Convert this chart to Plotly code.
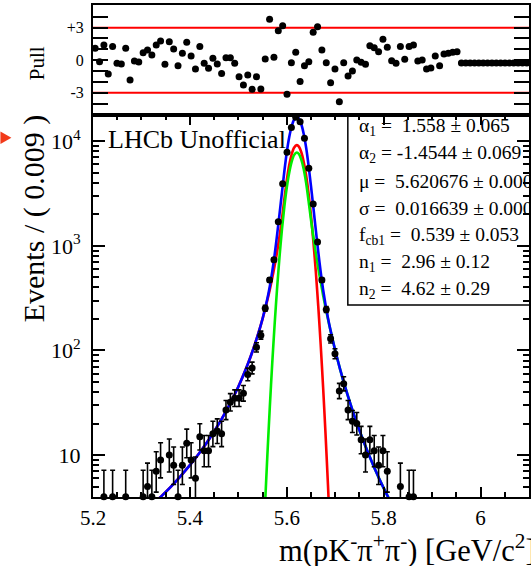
import math
import plotly.graph_objects as go

# ---------------- data ----------------
BIN_LO = 5.2
BIN_W = 0.009
N_BINS = 100

counts = [3, 1, 4, 0, 4, 1, 1, 4, 0, 2,
          2, 4, 5, 4, 7, 9, 3, 10, 8, 4,
          8, 13, 9, 6, 15, 11, 11, 16, 17, 16,
          27, 32, 35, 35, 39, 59, 68, 107, 140, 253,
          472, 735, 1700, 3910, 7840, 13510, 16900, 15350, 10660, 5500,
          2505, 1090, 470, 246, 129, 93, 41, 48, 27, 21,
          20, 14, 10, 14, 11, 8, 11, 7, 3, 2,
          5, 2, 4, 4, 1, 1, 0, 0, 1, 0,
          1, 1, 1, 1, 0, 0, 0, 0, 0, 0,
          0, 0, 0, 0, 0, 0, 0, 0, 0, 0]

pulls = [1.09, -0.14, 1.40, -1.28, 1.25, -0.29, -0.35, 1.09, -1.83, -0.08,
         -0.17, 0.69, 0.94, 0.48, 1.40, 1.77, -0.38, 1.71, 1.03, -0.51,
         0.63, 1.65, 0.38, -0.82, 1.25, -0.29, -0.75, 0.17, -0.35, -1.22,
         0.23, 0.23, -0.29, -1.52, -2.29, -1.37, -2.69, -1.52, -2.66, 0.11,
         3.77, 0.26, 2.72, 3.18, -3.15, -0.23, 0.72, -1.98, -0.51, -0.14,
         2.57, 3.09, 0.94, -0.23, -2.08, -0.82, -3.83, -0.23, -1.46, -1.00,
         0.02, -0.20, -0.38, 1.34, 1.15, 0.78, 1.92, 1.18, -0.05, -0.29,
         1.25, 0.08, 1.25, 1.40, -0.08, 0.02, -0.82, -0.72, 0.38, -0.51,
         0.57, 0.63, 0.72, 0.78, -0.27, -0.27, -0.27, -0.27, -0.27, -0.27,
         -0.27, -0.27, -0.27, -0.27, -0.27, -0.27, -0.27, -0.27, -0.27, -0.27]

# total fit curve (blue)
total_x = [5.330, 5.344, 5.36, 5.38, 5.40, 5.42, 5.44, 5.46, 5.48, 5.50,
           5.52, 5.53, 5.54, 5.55, 5.56, 5.565, 5.57, 5.575, 5.58, 5.585,
           5.59, 5.595, 5.60, 5.605, 5.61, 5.615, 5.6207, 5.625, 5.63, 5.635,
           5.64, 5.645, 5.65, 5.655, 5.66, 5.665, 5.67, 5.675, 5.68, 5.685,
           5.69, 5.70, 5.71, 5.72, 5.74, 5.76, 5.78, 5.80, 5.82]
total_y = [3.61, 4.17, 4.95, 6.24, 8.01, 10.55, 14.26, 19.96, 29.15, 45.0,
           75.0, 100.5, 139.0, 201, 313, 411, 567, 827, 1270, 2011,
           3226, 5156, 7836, 10881, 13804, 16001, 16960, 16397, 14496, 11707,
           8639, 5826, 3708, 2298, 1409, 874.5, 562.8, 381.8, 273.4, 204.6,
           158.1, 99.9, 66.3, 45.6, 23.3, 12.96, 7.71, 4.83, 3.16]

# first crystal-ball component (red)
cb1_x = [5.330, 5.344, 5.36, 5.38, 5.40, 5.42, 5.44, 5.46, 5.48, 5.50,
         5.52, 5.53, 5.54, 5.55, 5.56, 5.565, 5.57, 5.575, 5.58, 5.585,
         5.59, 5.595, 5.60, 5.605, 5.61, 5.615, 5.6207, 5.625, 5.63, 5.635,
         5.64, 5.645, 5.65, 5.655, 5.66, 5.665, 5.67, 5.675, 5.68, 5.685, 5.69]
cb1_y = [3.61, 4.17, 4.95, 6.24, 8.01, 10.55, 14.26, 19.96, 29.15, 45.0,
         75.0, 100.5, 139.0, 200.1, 303.1, 382.0, 491.5, 646.6, 876.4, 1228,
         1799, 2785, 4232, 5877, 7455, 8642, 9160, 8856, 7829, 6323,
         4666, 3146, 1940, 1092, 561.6, 264, 113.3, 44.5, 15.9, 5.2, 1.56]

# second crystal-ball component (green)
cb2_x = [5.55, 5.555, 5.56, 5.565, 5.57, 5.575, 5.58, 5.585, 5.59, 5.595,
         5.60, 5.605, 5.61, 5.615, 5.6207, 5.625, 5.63, 5.635, 5.64, 5.645,
         5.65, 5.655, 5.66, 5.665, 5.67, 5.675, 5.68, 5.685, 5.69, 5.70,
         5.71, 5.72, 5.74, 5.76, 5.78, 5.80, 5.82]
cb2_y = [0.94, 3.24, 10.1, 28.9, 75.7, 180.1, 393, 783, 1427, 2371,
         3604, 5004, 6348, 7359, 7800, 7541, 6667, 5384, 3973, 2680,
         1768, 1206, 847.4, 610.5, 449.5, 337.3, 257.5, 199.4, 156.6, 99.9,
         66.3, 45.6, 23.3, 12.96, 7.71, 4.83, 3.16]

y_tick_vals = [10, 100, 1000, 10000]
y_tick_text = ["10", "10<sup>2</sup>", "10<sup>3</sup>", "10<sup>4</sup>"]
pull_tick_vals = [-4, -3, -2, -1, 0, 1, 2, 3, 4]
pull_tick_text = ["", "-3", "", "", "0", "", "", "+3", ""]

fit_lines = [
    "α<sub>1</sub> =\u00a0\u00a01.558 ± 0.065",
    "α<sub>2</sub> = -1.4544 ± 0.069",
    "μ =\u00a0\u00a05.620676 ± 0.000077",
    "σ =\u00a0\u00a00.016639 ± 0.000079",
    "f<sub>cb1</sub> =\u00a0\u00a00.539 ± 0.053",
    "n<sub>1</sub> =\u00a0\u00a02.96 ± 0.12",
    "n<sub>2</sub> =\u00a0\u00a04.62 ± 0.29",
]

# ---------------- derived ----------------
centers = [BIN_LO + BIN_W * (i + 0.5) for i in range(N_BINS)]
Y_MIN_LOG = 0.5995
Y_MIN = 10 ** Y_MIN_LOG


def poisson_interval(n):
    if n == 0:
        return 0.0, 1.841
    lo = n * (1 - 1 / (9 * n) - 1 / (3 * math.sqrt(n))) ** 3
    m = n + 1
    hi = m * (1 - 1 / (9 * m) + 1 / (3 * math.sqrt(m))) ** 3
    return lo, hi


vis_x, vis_y, err_up, err_dn = [], [], [], []
for c, n in zip(centers, counts):
    if n >= Y_MIN:
        lo, hi = poisson_interval(n)
        vis_x.append(c)
        vis_y.append(n)
        err_up.append(hi - n)
        err_dn.append(n - lo)

# ---------------- layout geometry ----------------
W, H = 531, 566
ML, MR, MT, MB = 93, 0, 5, 69
PW = W - ML - MR
PH = H - MT - MB
SPLIT_PX = 115
split = (H - MB - SPLIT_PX) / PH


def px(x):
    return (x - ML) / PW


def py(y):
    return (H - MB - y) / PH


FONT = "Liberation Serif"

fig = go.Figure()

fig.add_trace(go.Scatter(x=cb1_x, y=cb1_y, mode="lines", line=dict(color="#ff0000", width=2.6, shape="spline", smoothing=0.6),
                         xaxis="x", yaxis="y", showlegend=False, hoverinfo="skip"))
fig.add_trace(go.Scatter(x=cb2_x, y=cb2_y, mode="lines", line=dict(color="#00ee00", width=2.6, shape="spline", smoothing=0.6),
                         xaxis="x", yaxis="y", showlegend=False, hoverinfo="skip"))
fig.add_trace(go.Scatter(x=total_x, y=total_y, mode="lines", line=dict(color="#0000ff", width=2.6, shape="spline", smoothing=0.6),
                         xaxis="x", yaxis="y", showlegend=False, hoverinfo="skip"))

fig.add_trace(go.Scatter(x=vis_x, y=vis_y, mode="markers", marker=dict(size=7, color="rgba(0,0,0,0)"),
                         error_y=dict(type="data", symmetric=False, array=err_up, arrayminus=err_dn,
                                      color="black", thickness=1.6, width=2.5),
                         xaxis="x", yaxis="y", showlegend=False, cliponaxis=True))
fig.add_trace(go.Scatter(x=vis_x, y=vis_y, mode="markers", marker=dict(size=7, color="black"),
                         xaxis="x", yaxis="y", showlegend=False, cliponaxis=False))

fig.add_trace(go.Scatter(x=centers, y=pulls, mode="markers", marker=dict(size=7, color="black"),
                         xaxis="x2", yaxis="y2", showlegend=False, cliponaxis=False))

axis_common = dict(showline=True, linewidth=2, linecolor="black", showgrid=False, zeroline=False,
                   tickcolor="black", tickwidth=1.6)

minor_y_vals = [k * 10 ** e for e in range(0, 5) for k in range(2, 10)]

fig.update_layout(
    width=W, height=H,
    margin=dict(l=ML, r=MR, t=MT, b=MB),
    paper_bgcolor="white", plot_bgcolor="white",
    font=dict(family=FONT, color="black"),
    xaxis=dict(domain=[0, 1], anchor="y", range=[5.2, 6.1], tickmode="linear", tick0=5.2, dtick=0.2,
               ticks="inside", ticklen=10, mirror="ticks",
               minor=dict(tickmode="linear", tick0=5.2, dtick=0.05, ticks="inside", ticklen=5,
                          tickcolor="black", tickwidth=1.6),
               tickfont=dict(size=21, family=FONT), ticklabelstandoff=1, **axis_common),
    yaxis=dict(domain=[0, split], anchor="x", type="log", range=[Y_MIN_LOG, 4.25],
               tickmode="array", tickvals=y_tick_vals, ticktext=y_tick_text,
               ticks="inside", ticklen=12, mirror="ticks",
               minor=dict(tickmode="array", tickvals=minor_y_vals, ticks="inside", ticklen=6,
                          tickcolor="black", tickwidth=1.6),
               tickfont=dict(size=22, family=FONT), ticklabelstandoff=6, **axis_common),
    xaxis2=dict(domain=[0, 1], anchor="y2", range=[5.2, 6.1], matches="x", showticklabels=False,
                ticks="", mirror=True, **axis_common),
    yaxis2=dict(domain=[split, 1], anchor="x2", range=[-5.06, 5.09],
                tickmode="array", tickvals=pull_tick_vals, ticktext=pull_tick_text,
                ticks="inside", ticklen=15, mirror="ticks",
                tickfont=dict(size=16, family=FONT), ticklabelstandoff=4, **axis_common),
)

# red +-3 lines in the pull panel
for v in (3, -3):
    fig.add_shape(type="line", xref="x2 domain", x0=0, x1=1, yref="y2", y0=v, y1=v,
                  line=dict(color="#ff0000", width=2), layer="below")

# parameter box
fig.add_shape(type="rect", xref="paper", yref="paper", x0=px(349), x1=px(600), y0=py(305), y1=py(115),
              line=dict(color="black", width=1.5), fillcolor="rgba(0,0,0,0)", layer="above")

# red pointer at left edge
ax0, ax1 = px(0), px(11)
fig.add_shape(type="path", xref="paper", yref="paper",
              path=f"M {ax0},{py(131.5)} L {ax1},{py(137.8)} L {ax0},{py(144)} Z",
              fillcolor="#f23a1a", line=dict(width=0))

annotations = []
y0, dy = 126.5, 27.3
for i, t in enumerate(fit_lines):
    annotations.append(dict(text=t, x=px(358), y=py(y0 + dy * i), xref="paper", yref="paper",
                            xanchor="left", yanchor="middle", showarrow=False,
                            font=dict(size=19.5, family=FONT, color="black")))

annotations.append(dict(text="LHCb Unofficial", x=px(106), y=py(139.5), xref="paper", yref="paper",
                        xanchor="left", yanchor="middle", showarrow=False,
                        font=dict(size=26, family=FONT, color="black")))
annotations.append(dict(text="Events / ( 0.009 )", x=px(34), y=py(219), xref="paper", yref="paper",
                        xanchor="center", yanchor="middle", textangle=-90, showarrow=False,
                        font=dict(size=30, family=FONT, color="black")))
annotations.append(dict(text="Pull", x=px(37), y=py(63), xref="paper", yref="paper",
                        xanchor="center", yanchor="middle", textangle=-90, showarrow=False,
                        font=dict(size=21, family=FONT, color="black")))
annotations.append(dict(text="m(pK<sup>-</sup>π<sup>+</sup>π<sup>-</sup>) [GeV/c<sup>2</sup>]",
                        x=px(278), y=py(548), xref="paper", yref="paper",
                        xanchor="left", yanchor="middle", showarrow=False,
                        font=dict(size=30.5, family=FONT, color="black")))
fig.update_layout(annotations=annotations)

fig.write_html("out.html")
